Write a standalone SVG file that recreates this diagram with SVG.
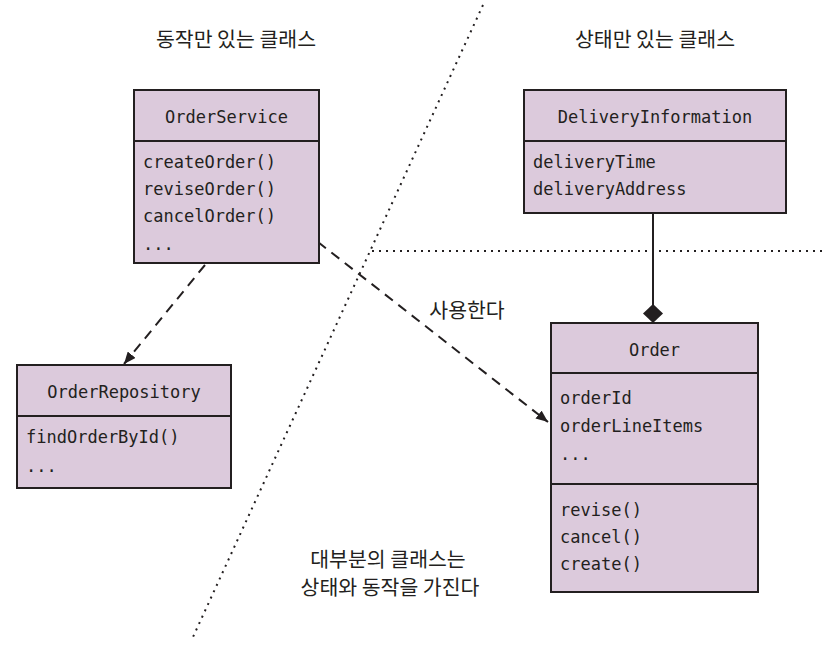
<svg xmlns="http://www.w3.org/2000/svg" width="825" height="649" viewBox="0 0 825 649">
<style>
.box{fill:#dccadc;stroke:#231f20;stroke-width:2}
.div{stroke:#231f20;stroke-width:2}
.mono{font-family:"DejaVu Sans Mono","Liberation Mono",monospace;font-size:17px;fill:#231f20}
.ko{font-family:"Noto Sans CJK KR","Noto Sans",sans-serif;font-size:20.5px;fill:#231f20}
.dash{stroke:#231f20;stroke-width:2;fill:none;stroke-dasharray:10 7}
.dot{stroke:#231f20;stroke-width:2;fill:none;stroke-dasharray:2 5}
</style>
<defs>
<marker id="arr" viewBox="0 0 12 10" refX="12" refY="5" markerWidth="12" markerHeight="10" markerUnits="userSpaceOnUse" orient="auto">
<path d="M0,0 L12,5 L0,10 Z" fill="#231f20"/>
</marker>
</defs>
<g id="dividers">
<line class="dot" x1="483" y1="5" x2="193" y2="637"/>
<line class="dot" x1="372" y1="251" x2="822" y2="251"/>
</g>
<g id="labels">
<text class="ko" x="236" y="47" text-anchor="middle">동작만 있는 클래스</text>
<text class="ko" x="655" y="47" text-anchor="middle">상태만 있는 클래스</text>
<text class="ko" x="388" y="567" text-anchor="middle">대부분의 클래스는</text>
<text class="ko" x="390" y="595" text-anchor="middle">상태와 동작을 가진다</text>
</g>
<g id="connectors">
<line class="dash" x1="318" y1="242" x2="548" y2="422" marker-end="url(#arr)"/>
<line class="dash" x1="205" y1="265" x2="124" y2="364" marker-end="url(#arr)"/>
<line class="div" x1="653" y1="213" x2="653" y2="305"/>
<path d="M653,304 L663,313.5 L653,323 L643,313.5 Z" fill="#231f20"/>
<text class="ko" x="467" y="318" text-anchor="middle">사용한다</text>
</g>
<g id="OrderService">
<rect class="box" x="134" y="90" width="185" height="173"/>
<line class="div" x1="134" y1="141" x2="319" y2="141"/>
<text class="mono" x="226.5" y="123" text-anchor="middle">OrderService</text>
<text class="mono" x="143" y="168">createOrder()</text>
<text class="mono" x="143" y="195">reviseOrder()</text>
<text class="mono" x="143" y="222">cancelOrder()</text>
<text class="mono" x="143" y="250">...</text>
</g>
<g id="DeliveryInformation">
<rect class="box" x="524" y="90" width="262" height="123"/>
<line class="div" x1="524" y1="141" x2="786" y2="141"/>
<text class="mono" x="655" y="123" text-anchor="middle">DeliveryInformation</text>
<text class="mono" x="533" y="168">deliveryTime</text>
<text class="mono" x="533" y="195">deliveryAddress</text>
</g>
<g id="OrderRepository">
<rect class="box" x="17" y="365" width="214" height="123"/>
<line class="div" x1="17" y1="416" x2="231" y2="416"/>
<text class="mono" x="124" y="398" text-anchor="middle">OrderRepository</text>
<text class="mono" x="26" y="443">findOrderById()</text>
<text class="mono" x="26" y="472">...</text>
</g>
<g id="Order">
<rect class="box" x="551" y="323" width="207" height="269"/>
<line class="div" x1="551" y1="373" x2="758" y2="373"/>
<line class="div" x1="551" y1="484" x2="758" y2="484"/>
<text class="mono" x="654.5" y="356" text-anchor="middle">Order</text>
<text class="mono" x="560" y="404">orderId</text>
<text class="mono" x="560" y="432">orderLineItems</text>
<text class="mono" x="560" y="460">...</text>
<text class="mono" x="560" y="516">revise()</text>
<text class="mono" x="560" y="543">cancel()</text>
<text class="mono" x="560" y="570">create()</text>
</g>
</svg>
